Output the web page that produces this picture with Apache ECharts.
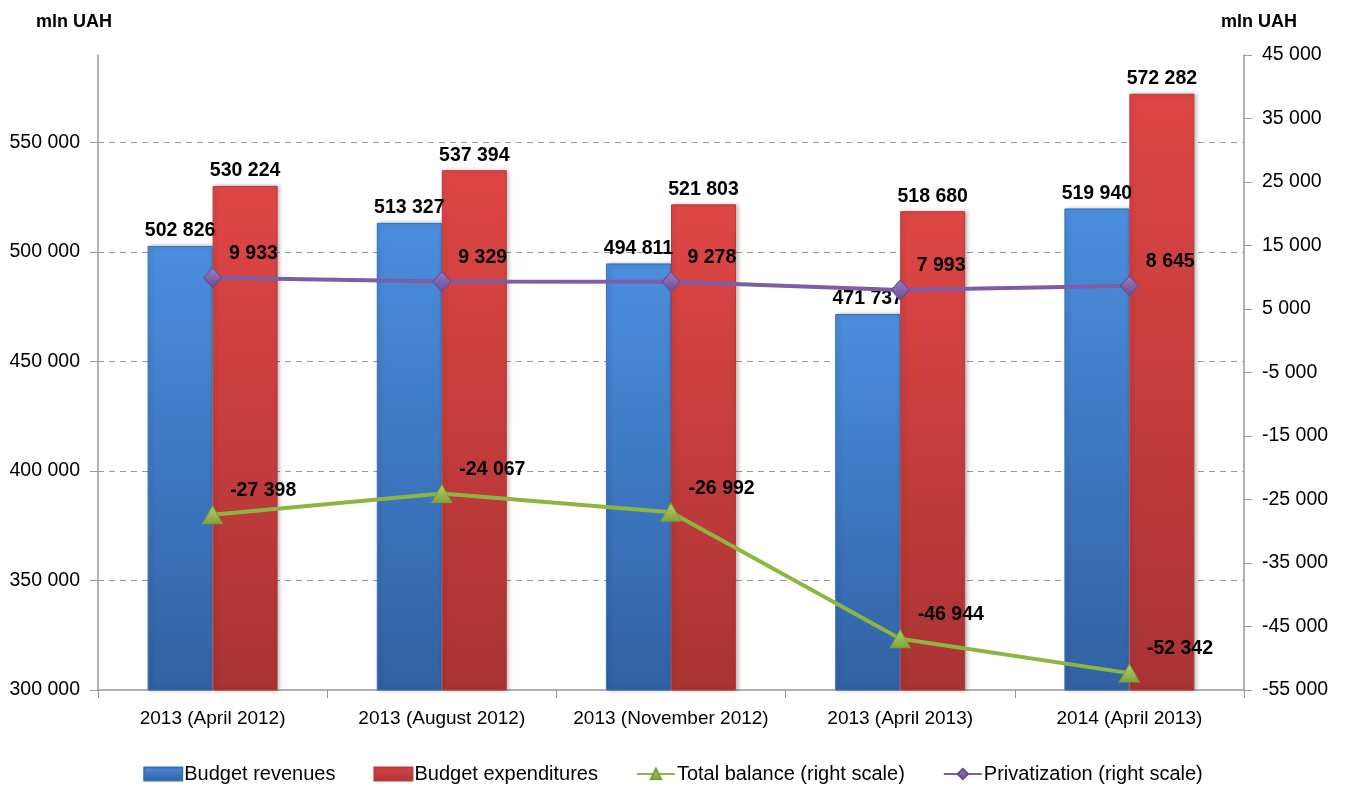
<!DOCTYPE html>
<html>
<head>
<meta charset="utf-8">
<script src="https://cdn.jsdelivr.net/npm/echarts@6/dist/echarts.min.js"></script>
<style>
html, body { margin: 0; padding: 0; background: #fff; }
#chart { width: 1346px; height: 794px; }
</style>
</head>
<body>
<div id="chart"></div>
<script>
// categories and values (mln UAH)
const categories = ['2013 (April 2012)', '2013 (August 2012)', '2013 (November 2012)', '2013 (April 2013)', '2014 (April 2013)'];
const revenues = [502826, 513327, 494811, 471737, 519940];
const expenditures = [530224, 537394, 521803, 518680, 572282];
const totalBalance = [-27398, -24067, -26992, -46944, -52342];
const privatization = [9933, 9329, 9278, 7993, 8645];

// number with space as thousands separator
function fmt(v) {
    return String(v).replace(/\B(?=(\d{3})+(?!\d))/g, ' ');
}

const fontFamily = '"Liberation Sans", Arial, sans-serif';

function vGrad(top, bottom) {
    return new echarts.graphic.LinearGradient(0, 0, 0, 1, [
        { offset: 0, color: top },
        { offset: 1, color: bottom }
    ]);
}

const barLabel = {
    show: true,
    position: 'top',
    distance: 5,
    color: '#000',
    fontWeight: 'bold',
    fontSize: 19.5,
    fontFamily: fontFamily,
    formatter: p => fmt(p.value)
};

const lineLabel = {
    show: true,
    position: 'right',
    offset: [2, -24],
    color: '#000',
    fontWeight: 'bold',
    fontSize: 19.5,
    fontFamily: fontFamily,
    formatter: p => fmt(p.value)
};

const chart = echarts.init(document.getElementById('chart'));

const option = {
    animation: false,
    title: [
        { text: 'mln UAH', left: 31, top: 8, textStyle: { fontSize: 18, fontWeight: 'bold', color: '#000', fontFamily: fontFamily } },
        { text: 'mln UAH', right: 44, top: 8, textStyle: { fontSize: 18, fontWeight: 'bold', color: '#000', fontFamily: fontFamily } }
    ],
    grid: { left: 98, right: 102, top: 55, bottom: 104 },
    legend: {
        bottom: 5,
        left: 'center',
        itemWidth: 38,
        itemHeight: 13,
        itemGap: 38,
        textStyle: { fontSize: 20, color: '#000', fontFamily: fontFamily, padding: [0, 0, 0, -3] },
        data: [
            { name: 'Budget revenues', icon: 'rect' },
            { name: 'Budget expenditures', icon: 'rect' },
            { name: 'Total balance (right scale)' },
            { name: 'Privatization (right scale)' }
        ]
    },
    xAxis: {
        type: 'category',
        data: categories,
        axisLine: { onZero: false, lineStyle: { color: '#999', width: 1.5 } },
        axisTick: { show: true, length: 8, lineStyle: { color: '#999' } },
        axisLabel: { interval: 0, fontSize: 19, color: '#000', fontFamily: fontFamily, margin: 19 }
    },
    yAxis: [
        {
            type: 'value',
            min: 300000,
            max: 590000,
            interval: 50000,
            axisLine: { show: true, lineStyle: { color: '#999', width: 1.5 } },
            axisTick: { show: true, length: 8, lineStyle: { color: '#999' } },
            axisLabel: { fontSize: 19.5, color: '#000', fontFamily: fontFamily, margin: 18, showMaxLabel: false, formatter: fmt },
            splitLine: { show: true, showMaxLine: false, showMinLine: false, lineStyle: { color: '#999', type: [6, 5], width: 1 } }
        },
        {
            type: 'value',
            min: -55000,
            max: 45000,
            interval: 10000,
            axisLine: { show: true, lineStyle: { color: '#999', width: 1.5 } },
            axisTick: { show: true, inside: false, length: 8, lineStyle: { color: '#999' } },
            axisLabel: { fontSize: 19.5, color: '#000', fontFamily: fontFamily, margin: 18, formatter: fmt },
            splitLine: { show: false }
        }
    ],
    series: [
        {
            name: 'Budget revenues',
            type: 'bar',
            data: revenues,
            barWidth: 65,
            barGap: '0%',
            itemStyle: {
                color: vGrad('#4A8EDE', '#3161A3'),
                borderColor: '#3A6FB5',
                borderWidth: 1,
                shadowColor: 'rgba(0,0,0,0.25)',
                shadowBlur: 4,
                shadowOffsetX: 2
            },
            label: barLabel,
            z: 2
        },
        {
            name: 'Budget expenditures',
            type: 'bar',
            data: expenditures,
            barWidth: 65,
            itemStyle: {
                color: vGrad('#E04646', '#A93333'),
                borderColor: '#B83A3A',
                borderWidth: 1,
                shadowColor: 'rgba(0,0,0,0.25)',
                shadowBlur: 4,
                shadowOffsetX: 2
            },
            label: barLabel,
            z: 2
        },
        {
            name: 'Total balance (right scale)',
            type: 'line',
            yAxisIndex: 1,
            data: totalBalance,
            symbol: 'triangle',
            symbolSize: [20, 18],
            lineStyle: { color: '#8DB542', width: 4 },
            itemStyle: { color: vGrad('#B5D46E', '#7FA13A'), borderColor: '#7E9E3E', borderWidth: 1 },
            label: lineLabel,
            z: 5
        },
        {
            name: 'Privatization (right scale)',
            type: 'line',
            yAxisIndex: 1,
            data: privatization,
            symbol: 'diamond',
            symbolSize: [18, 20],
            lineStyle: { color: '#7E5DA8', width: 4 },
            itemStyle: { color: vGrad('#9A7CC4', '#6A4C92'), borderColor: '#6A4C92', borderWidth: 1 },
            label: lineLabel,
            z: 5
        }
    ]
};

chart.setOption(option);
</script>
</body>
</html>
